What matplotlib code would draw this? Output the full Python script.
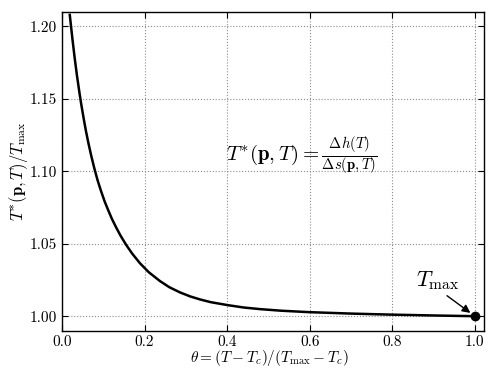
# %% Libraries
import numpy as np
import matplotlib
matplotlib.use("Agg")
import matplotlib.pyplot as plt

# %% Data
# --+ reduced temperature vs normalised T*
theta = [0.0188, 0.0250, 0.0307, 0.0360, 0.0428, 0.0470, 0.0530, 0.0580, 0.0640,
         0.0710, 0.0780, 0.0860, 0.0944, 0.1030, 0.1120, 0.1210, 0.1307, 0.1420,
         0.1550, 0.1700, 0.1890, 0.2100, 0.2370, 0.2600, 0.2860, 0.3100, 0.3340,
         0.3600, 0.4000, 0.4400, 0.4790, 0.5300, 0.5980, 0.7000, 0.7940, 0.9000,
         1.0000]
t_ratio = [1.2080, 1.1919, 1.1782, 1.1665, 1.1532, 1.1456, 1.1356, 1.1278, 1.1194,
           1.1105, 1.1024, 1.0940, 1.0865, 1.0794, 1.0731, 1.0671, 1.0615, 1.0555,
           1.0494, 1.0432, 1.0365, 1.0304, 1.0243, 1.0200, 1.0164, 1.0137, 1.0116,
           1.0097, 1.0077, 1.0060, 1.0049, 1.0038, 1.0028, 1.0018, 1.0011, 1.0005,
           1.0000]
# --+ end point
t_max_point = (1.0, 1.0)

# %% Style
plt.rcParams['font.family'] = 'serif'
plt.rcParams['font.serif'] = ['cmr10']
plt.rcParams['mathtext.fontset'] = 'cm'
plt.rcParams['axes.unicode_minus'] = False

# %% Plot
fig = plt.figure(figsize=(4.91, 3.68), dpi=100)
ax = fig.add_axes([0.1263, 0.1014, 0.8594, 0.866])
ax.plot(theta, t_ratio, color='k', lw=1.8, solid_joinstyle='round')
ax.plot(*t_max_point, 'o', color='k', ms=6, clip_on=False, zorder=5)
ax.annotate(r'$T_{\max}$', xy=t_max_point, xytext=(0.91, 1.0245),
            fontsize=16, ha='center', va='center',
            arrowprops=dict(arrowstyle='-|>', color='k', lw=1.0, relpos=(0.6, 0.0),
                            shrinkA=1, shrinkB=4, mutation_scale=12))
ax.text(0.398, 1.111, r'$T^{*}(\mathbf{p},T)=\frac{\Delta h(T)}{\Delta s(\mathbf{p},T)}$',
        fontsize=15, ha='left', va='center')
# --+ axes
ax.set_xlim(0, 1.022)
ax.set_ylim(0.990, 1.210)
ax.set_xticks([0.0, 0.2, 0.4, 0.6, 0.8, 1.0])
ax.set_yticks([1.00, 1.05, 1.10, 1.15, 1.20])
ax.set_xticklabels(['0.0', '0.2', '0.4', '0.6', '0.8', '1.0'])
ax.set_yticklabels(['1.00', '1.05', '1.10', '1.15', '1.20'])
ax.tick_params(direction='in', length=4, labelsize=11, top=True, right=True)
ax.grid(True, ls=':', color='0.55', lw=0.8)
ax.set_xlabel(r'$\theta=(T-T_c)/(T_{\max}-T_c)$', fontsize=11, va='center')
ax.set_ylabel(r'$T^{*}(\mathbf{p},T)/T_{\max}$', fontsize=12, va='center')
ax.xaxis.set_label_coords(0.49, -0.087)
ax.yaxis.set_label_coords(-0.102, 0.5)
for s in ax.spines.values():
    s.set_linewidth(1.0)
fig.savefig('out.png', dpi=100)
